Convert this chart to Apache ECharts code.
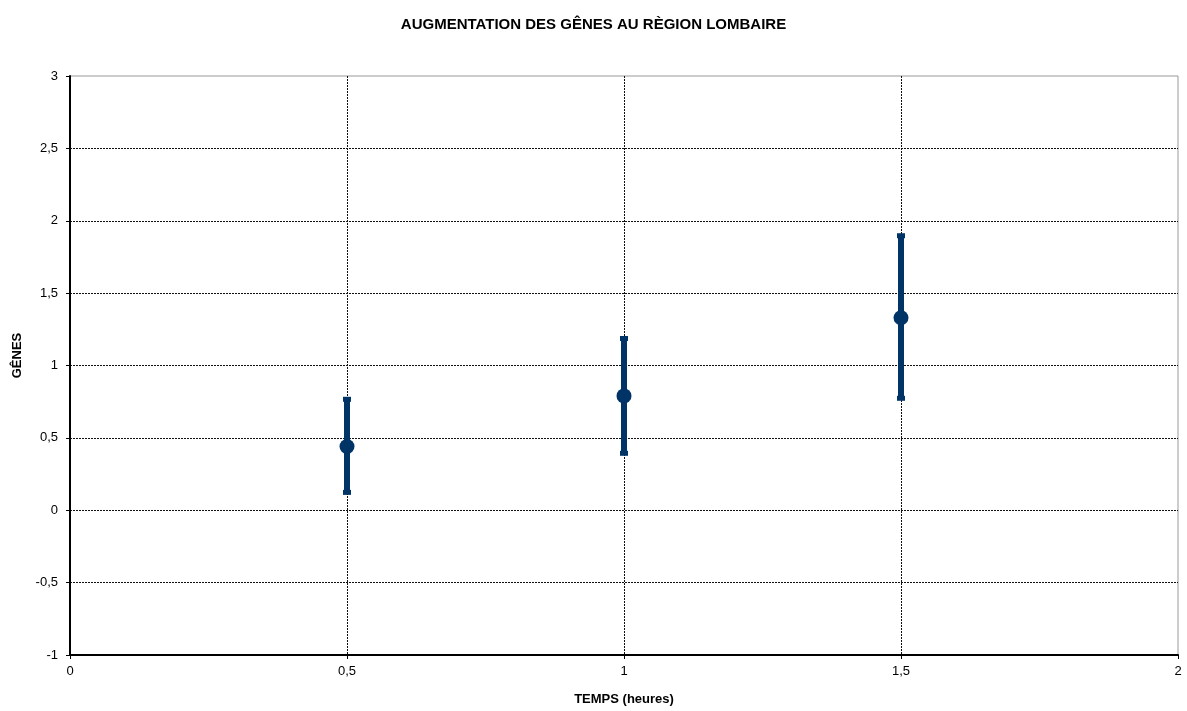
<!DOCTYPE html>
<html><head><meta charset="utf-8">
<script src="https://cdn.jsdelivr.net/npm/echarts@6/dist/echarts.min.js"></script>
<style>html,body{margin:0;padding:0;background:#fff}#c{width:1187px;height:711px}</style>
</head><body><div id="c"></div>
<script>
const xValues = [0.5, 1, 1.5];
const meanValues = [0.44, 0.79, 1.33];
const lowerValues = [0.12, 0.39, 0.77];
const upperValues = [0.77, 1.19, 1.90];
const title = 'AUGMENTATION DES GÊNES AU RÈGION LOMBAIRE';
const xName = 'TEMPS (heures)';
const yName = 'GÊNES';

const color = '#003366';
const fmt = v => String(v).replace('.', ',');
const font = 'Liberation Sans, Arial, sans-serif';

const chart = echarts.init(document.getElementById('c'));
chart.setOption({
  animation: false,
  backgroundColor: '#fff',
  title: { text: title, left: 'center', top: 12,
    textStyle: { fontFamily: font, fontSize: 15, fontWeight: 'bold', color: '#000' } },
  grid: { left: 70, right: 9, top: 76, bottom: 56, show: true, borderColor: '#999', borderWidth: 1, backgroundColor: 'transparent' },
  xAxis: {
    type: 'value', min: 0, max: 2, interval: 0.5,
    name: xName, nameLocation: 'middle', nameGap: 38,
    nameTextStyle: { fontFamily: font, fontSize: 13, fontWeight: 'bold', color: '#000' },
    axisLine: { onZero: false, lineStyle: { color: '#000', width: 2 } },
    axisTick: { show: true, length: 4, lineStyle: { color: '#000' } },
    axisLabel: { fontFamily: font, fontSize: 13, color: '#000', margin: 10, formatter: fmt },
    splitLine: { show: true, showMaxLine: false, lineStyle: { color: '#111', type: [2, 1], width: 1 } }
  },
  yAxis: {
    type: 'value', min: -1, max: 3, interval: 0.5,
    name: yName, nameLocation: 'middle', nameGap: 46, nameRotate: 90,
    nameTextStyle: { fontFamily: font, fontSize: 13, fontWeight: 'bold', color: '#000', padding: [0, 0, 0, 20] },
    axisLine: { show: true, lineStyle: { color: '#000', width: 2 } },
    axisTick: { show: true, length: 4, lineStyle: { color: '#000' } },
    axisLabel: { fontFamily: font, fontSize: 13, color: '#000', margin: 12, formatter: fmt },
    splitLine: { show: true, showMaxLine: false, lineStyle: { color: '#111', type: [2, 1], width: 1 } }
  },
  series: [
    {
      type: 'custom',
      data: xValues.map((x, i) => [x, lowerValues[i], upperValues[i]]),
      renderItem: function (params, api) {
        const lo = api.coord([api.value(0), api.value(1)]);
        const hi = api.coord([api.value(0), api.value(2)]);
        const cw = 4;
        return {
          type: 'group',
          children: [
            { type: 'line', shape: { x1: lo[0], y1: lo[1], x2: hi[0], y2: hi[1] },
              style: { stroke: color, lineWidth: 6 } },
            { type: 'rect', shape: { x: hi[0] - cw, y: hi[1] - 2, width: cw * 2, height: 5 },
              style: { fill: color } },
            { type: 'rect', shape: { x: lo[0] - cw, y: lo[1] - 3, width: cw * 2, height: 5 },
              style: { fill: color } }
          ]
        };
      },
      z: 3
    },
    {
      type: 'scatter',
      data: xValues.map((x, i) => [x, meanValues[i]]),
      symbol: 'circle', symbolSize: 15,
      itemStyle: { color: color, opacity: 1 },
      z: 4
    }
  ]
});
</script></body></html>
